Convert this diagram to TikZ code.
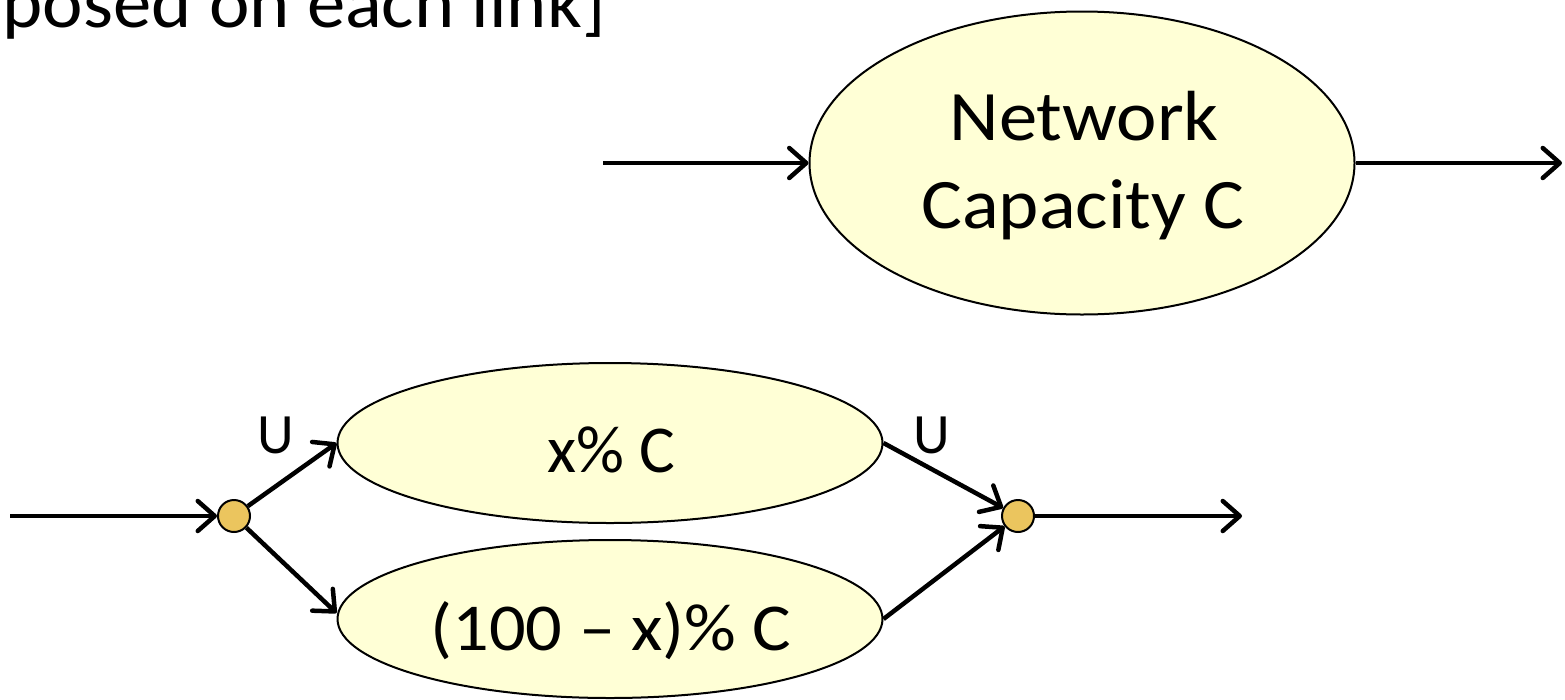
\documentclass[tikz,border=0pt]{standalone}
\usepackage{fontspec}
\setmainfont{Carlito}
\newfontfamily\widefont{Carlito}[FakeStretch=1.08]
\newfontfamily\headfont{Carlito}[FakeStretch=1.05]
\usetikzlibrary{arrows.meta,shapes.geometric}
\definecolor{capfill}{RGB}{255,255,214}
\definecolor{dotfill}{RGB}{235,197,94}
\tikzset{
  capacity/.style={ellipse,draw=black,line width=2pt,fill=capfill,inner sep=0pt},
  junction/.style={circle,draw=black,line width=2pt,fill=dotfill,minimum size=32pt,inner sep=0pt},
  flow/.style={line width=4.5pt,-{Straight Barb[length=17pt,width=30pt,round]}},
  bigtext/.style={anchor=base,inner sep=0pt,font=\widefont\fontsize{71}{84}\selectfont},
  midtext/.style={anchor=base,inner sep=0pt,font=\widefont\fontsize{67}{80}\selectfont},
  lbl/.style={anchor=base,inner sep=0pt,font=\fontsize{57}{68}\selectfont},
}
\begin{document}
\begin{tikzpicture}[x=1pt,y=-1pt]
\useasboundingbox (0,0) rectangle (1565,699);

% heading text running off the top edge
\node[anchor=base east,inner sep=0pt,font=\headfont\fontsize{73}{88}\selectfont] (head) at (606,27) {posed on each link]};

% single link of capacity C
\node[capacity,minimum width=545pt,minimum height=303pt] (net) at (1082,163) {};
\node[bigtext] (netA) at (1084,140) {Network};
\node[bigtext] (netB) at (1083,228) {Capacity C};
\coordinate (netin) at (603,163);
\coordinate (netout) at (1562,163);
\draw[flow] (netin) -- (net.west);
\draw[flow] (net.east) -- (netout);

% the same capacity split over two parallel links
\node[capacity,minimum width=545pt,minimum height=160pt] (up) at (610,443) {};
\node[capacity,minimum width=545pt,minimum height=158pt] (low) at (610,619) {};
\node[anchor=base,inner sep=0pt,font=\fontsize{67}{80}\selectfont] (upT) at (611,472) {x\% C};
\node[midtext] (lowT) at (611,650) {(100 – x)\% C};

\node[junction] (split) at (234,516) {};
\node[junction] (merge) at (1018,516) {};
\coordinate (splitin) at (10,516);
\coordinate (mergeout) at (1242,516);

\draw[flow] (splitin) -- (split);
\draw[flow] (split) -- (up.west);
\draw[flow] (split) -- ([yshift=6pt]low.west);
\draw[flow] (up.east) -- (merge);
\draw[flow] (low.east) -- (merge);
\draw[flow] (merge) -- (mergeout);

\node[lbl] (uA) at (276,453) {U};
\node[lbl] (uB) at (932,453) {U};
\end{tikzpicture}
\end{document}
